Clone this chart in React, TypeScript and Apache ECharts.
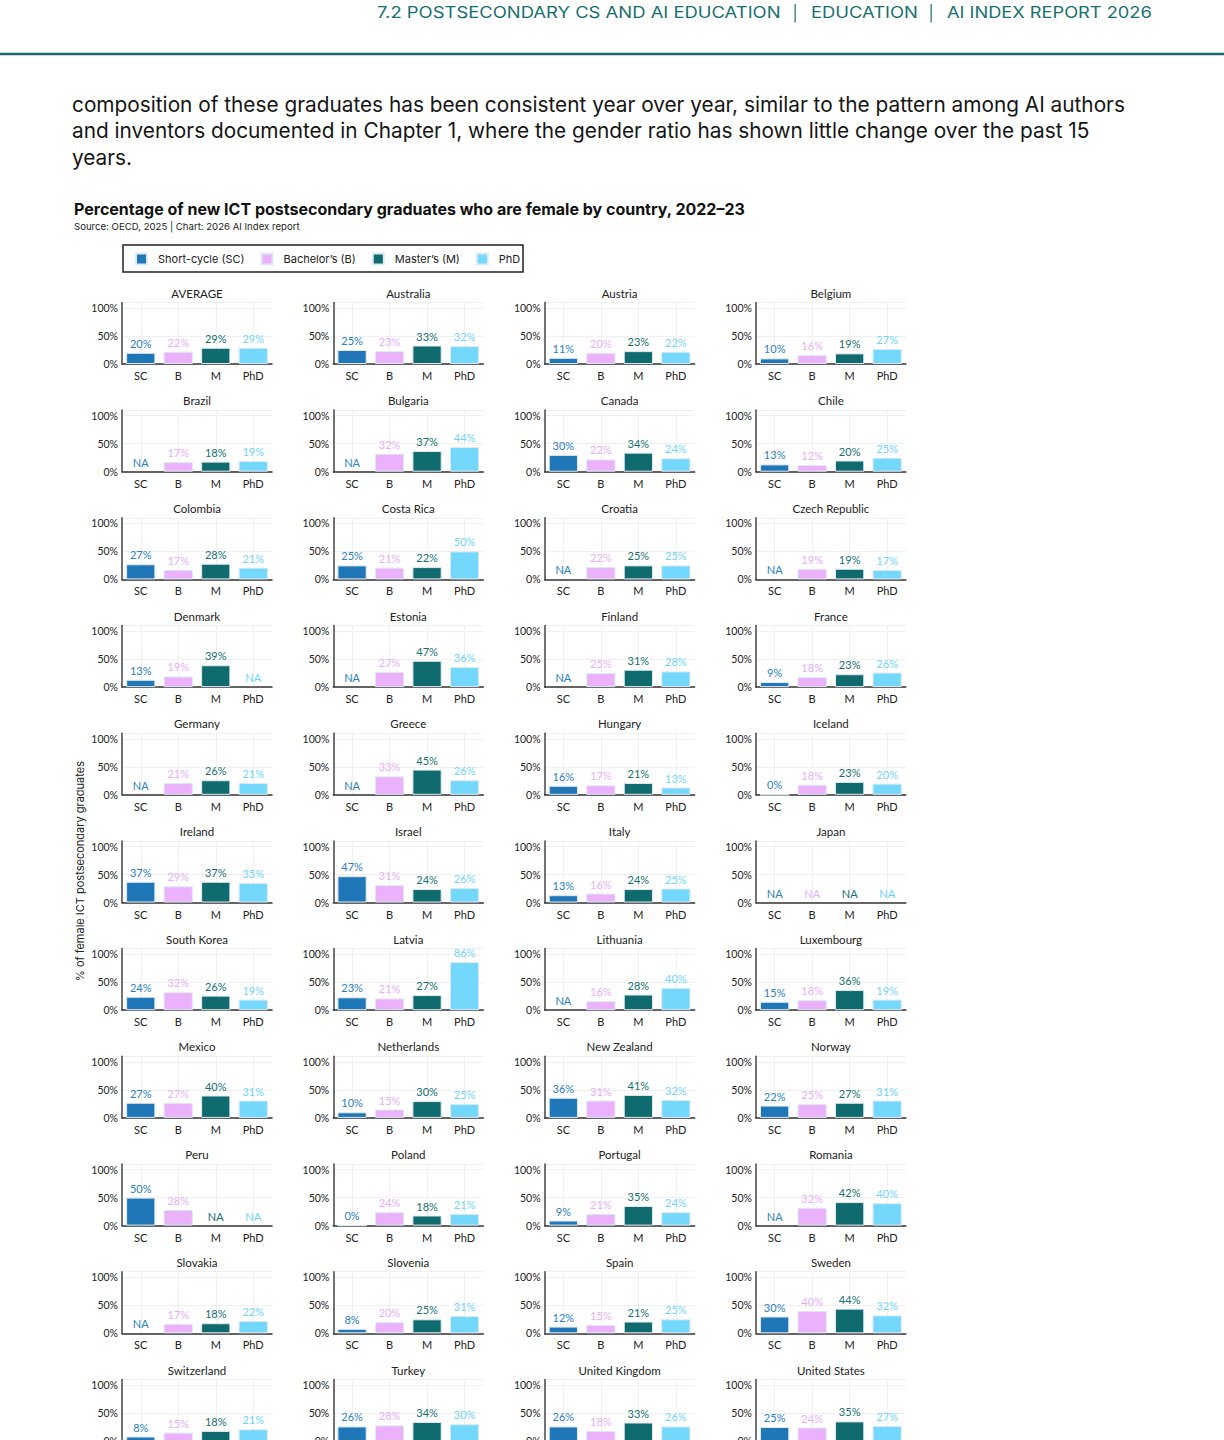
import React, { useEffect, useRef } from 'react';
import * as echarts from 'echarts';

const countries = [
  'AVERAGE', 'Australia', 'Austria', 'Belgium',
  'Brazil', 'Bulgaria', 'Canada', 'Chile',
  'Colombia', 'Costa Rica', 'Croatia', 'Czech Republic',
  'Denmark', 'Estonia', 'Finland', 'France',
  'Germany', 'Greece', 'Hungary', 'Iceland',
  'Ireland', 'Israel', 'Italy', 'Japan',
  'South Korea', 'Latvia', 'Lithuania', 'Luxembourg',
  'Mexico', 'Netherlands', 'New Zealand', 'Norway',
  'Peru', 'Poland', 'Portugal', 'Romania',
  'Slovakia', 'Slovenia', 'Spain', 'Sweden',
  'Switzerland', 'Turkey', 'United Kingdom', 'United States',
];

const shortCycle = [
  20, 25, 11, 10, null, null, 30, 13, 27, 25, null, null,
  13, null, null, 9, null, null, 16, 0, 37, 47, 13, null,
  24, 23, null, 15, 27, 10, 36, 22, 50, 0, 9, null,
  null, 8, 12, 30, 8, 26, 26, 25,
];
const bachelors = [
  22, 23, 20, 16, 17, 32, 22, 12, 17, 21, 22, 19,
  19, 27, 25, 18, 21, 33, 17, 18, 29, 31, 16, null,
  32, 21, 16, 18, 27, 15, 31, 25, 28, 24, 21, 32,
  17, 20, 15, 40, 15, 28, 18, 24,
];
const masters = [
  29, 33, 23, 19, 18, 37, 34, 20, 28, 22, 25, 19,
  39, 47, 31, 23, 26, 45, 21, 23, 37, 24, 24, null,
  26, 27, 28, 36, 40, 30, 41, 27, null, 18, 35, 42,
  18, 25, 21, 44, 18, 34, 33, 35,
];
const phd = [
  29, 32, 22, 27, 19, 44, 24, 25, 21, 50, 25, 17,
  null, 36, 28, 26, 21, 26, 13, 20, 35, 26, 25, null,
  19, 86, 40, 19, 31, 25, 32, 31, null, 21, 24, 40,
  22, 31, 25, 32, 21, 30, 26, 27,
];

const levels = ['SC', 'B', 'M', 'PhD'];
const levelNames = ['Short-cycle (SC)', 'Bachelor’s (B)', 'Master’s (M)', 'PhD'];
const yTicks = [0, 50, 100];

const barColors = ['#1f77b7', '#ebb2fb', '#0f6b6e', '#74d8fd'];
const labelColors = ['#2a80c2', '#e8aefa', '#15706f', '#6fd4fb'];

const FONT = 'Lato, "Noto Sans", sans-serif';
const FONT2 = 'Inter, "Noto Sans", sans-serif';

const headerParts = [
  { text: '7.2 POSTSECONDARY CS AND AI EDUCATION', x0: 377, x1: 781 },
  { text: '|', x0: 795, x1: 0 },
  { text: 'EDUCATION', x0: 811, x1: 918 },
  { text: '|', x0: 931, x1: 0 },
  { text: 'AI INDEX REPORT 2026', x0: 947, x1: 1152 },
];

function measure(text: string, font: string): number {
  const cv = document.createElement('canvas');
  const ctx = cv.getContext('2d');
  if (!ctx) return text.length * 10;
  ctx.font = font;
  return ctx.measureText(text).width;
}

export default function App() {
  const ref = useRef<HTMLDivElement>(null);

  useEffect(() => {
    document.body.style.margin = '0';
    if (!ref.current) return;
    const chart = echarts.init(ref.current, null, { renderer: 'svg' });

    const seriesValues = [shortCycle, bachelors, masters, phd];
    const cols = 4;
    const colStep = 211.3;
    const rowStep = 107.7;
    const gLeft0 = 122;
    const gTop0 = 302.4;
    const gW = 150;
    const gH = 61.6;
    const pageH = 1440;

    const grids: any[] = [];
    const xAxes: any[] = [];
    const yAxes: any[] = [];
    const series: any[] = [];
    const graphics: any[] = [];

    countries.forEach((name, i) => {
      const c = i % cols;
      const r = Math.floor(i / cols);
      const left = gLeft0 + colStep * c;
      const top = gTop0 + rowStep * r;
      const labelsVisible = top + gH + 6 < pageH;
      grids.push({ left, top, width: gW, height: gH, containLabel: false });
      xAxes.push({
        type: 'category',
        gridIndex: i,
        data: levels,
        axisLine: { show: true, lineStyle: { color: '#333', width: 1.5 } },
        axisTick: { show: false },
        axisLabel: { show: labelsVisible, color: '#222', fontSize: 11, margin: 6, fontFamily: FONT },
        splitLine: { show: true, alignWithLabel: true, lineStyle: { color: '#f0f0f0', width: 1 } },
      });
      yAxes.push({
        type: 'value',
        gridIndex: i,
        min: 0,
        max: 110,
        interval: 50,
        axisLine: { show: true, lineStyle: { color: '#444', width: 1.5 } },
        axisTick: { show: false },
        axisLabel: {
          color: '#222',
          fontSize: 10.5,
          margin: 4,
          fontFamily: FONT,
          formatter: (v: number) => (yTicks.includes(v) ? v + '%' : ''),
        },
        splitLine: { show: true, lineStyle: { color: '#f0f0f0', width: 1 } },
      });
      levels.forEach((lvl, k) => {
        const v = seriesValues[k][i];
        const data = levels.map((_, j) => {
          if (j !== k) return '-';
          if (v === null) {
            return {
              value: 0,
              label: { formatter: 'NA' },
              itemStyle: { borderWidth: 0, color: 'rgba(0,0,0,0)' },
            };
          }
          return v;
        });
        series.push({
          type: 'bar',
          name: levelNames[k],
          xAxisIndex: i,
          yAxisIndex: i,
          barWidth: '78%',
          barGap: '-100%',
          data,
          itemStyle: { color: barColors[k], borderColor: '#dfe9f3', borderWidth: 1 },
          label: {
            show: true,
            position: 'top',
            distance: 4,
            fontSize: 11,
            fontFamily: FONT,
            color: labelColors[k],
            formatter: '{c}%',
          },
          emphasis: { disabled: true },
        });
      });
      graphics.push({
        type: 'text',
        x: left + gW / 2,
        y: gTop0 - 9.4 + rowStep * r,
        style: {
          text: name,
          fill: '#222',
          fontSize: 11.5,
          fontFamily: FONT,
          align: 'center',
          textAlign: 'center',
          verticalAlign: 'middle',
          textVerticalAlign: 'middle',
        },
      });
    });

    // Page header (letter-spaced look approximated by horizontal scaling)
    const headerSize = 15.5;
    headerParts.forEach((p) => {
      const w = measure(p.text, `${headerSize}px Inter`);
      const scaleX = p.x1 > 0 && w > 0 ? (p.x1 - p.x0) / w : 1;
      graphics.push({
        type: 'text',
        x: p.x0,
        y: 13,
        scaleX,
        style: {
          text: p.text,
          fill: '#17706f',
          fontSize: headerSize,
          fontFamily: FONT2,
          align: p.x1 > 0 ? 'left' : 'center',
          textAlign: p.x1 > 0 ? 'left' : 'center',
          verticalAlign: 'middle',
          textVerticalAlign: 'middle',
        },
      });
    });
    graphics.push({
      type: 'line',
      shape: { x1: 0, y1: 54, x2: 1224, y2: 54 },
      style: { stroke: '#156e6e', lineWidth: 2.5 },
    });

    const para = [
      'composition of these graduates has been consistent year over year, similar to the pattern among AI authors',
      'and inventors documented in Chapter 1, where the gender ratio has shown little change over the past 15',
      'years.',
    ];
    para.forEach((t, idx) => {
      graphics.push({
        type: 'text',
        x: 72,
        y: 104 + idx * 26.5,
        style: {
          text: t,
          fill: '#151515',
          fontSize: 20.8,
          fontFamily: FONT2,
          align: 'left',
          textAlign: 'left',
          verticalAlign: 'middle',
          textVerticalAlign: 'middle',
        },
      });
    });
    graphics.push(
      {
        type: 'text',
        x: 74,
        y: 209,
        style: {
          text: 'Percentage of new ICT postsecondary graduates who are female by country, 2022–23',
          fill: '#111',
          fontSize: 16,
          fontWeight: 'bold',
          fontFamily: FONT2,
          align: 'left',
          textAlign: 'left',
          verticalAlign: 'middle',
          textVerticalAlign: 'middle',
        },
      },
      {
        type: 'text',
        x: 74,
        y: 226,
        style: {
          text: 'Source: OECD, 2025 | Chart: 2026 AI Index report',
          fill: '#222',
          fontSize: 9.6,
          fontFamily: FONT2,
          align: 'left',
          textAlign: 'left',
          verticalAlign: 'middle',
          textVerticalAlign: 'middle',
        },
      },
      {
        type: 'rect',
        shape: { x: 123, y: 245, width: 400, height: 27 },
        style: { fill: 'none', stroke: '#222', lineWidth: 1.5 },
      },
      {
        type: 'text',
        x: 80,
        y: 871,
        rotation: Math.PI / 2,
        style: {
          text: '% of female ICT postsecondary graduates',
          fill: '#222',
          fontSize: 11,
          fontFamily: FONT2,
          align: 'center',
          textAlign: 'center',
          verticalAlign: 'middle',
          textVerticalAlign: 'middle',
        },
      },
    );

    chart.setOption({
      animation: false,
      textStyle: { fontFamily: FONT },
      legend: {
        data: levelNames,
        left: 135,
        top: 252.5,
        icon: 'rect',
        itemWidth: 11,
        itemHeight: 11,
        itemGap: 16,
        padding: 0,
        selectedMode: false,
        textStyle: { fontSize: 11, color: '#222', fontFamily: FONT2, padding: [0, 0, 0, 6] },
      },
      grid: grids,
      xAxis: xAxes,
      yAxis: yAxes,
      series,
      graphic: graphics,
    });

    return () => {
      chart.dispose();
    };
  }, []);

  return (
    <div style={{ width: 1224, height: 1440, overflow: 'hidden' }}>
      <div ref={ref} style={{ width: 1224, height: 1500 }} />
    </div>
  );
}
